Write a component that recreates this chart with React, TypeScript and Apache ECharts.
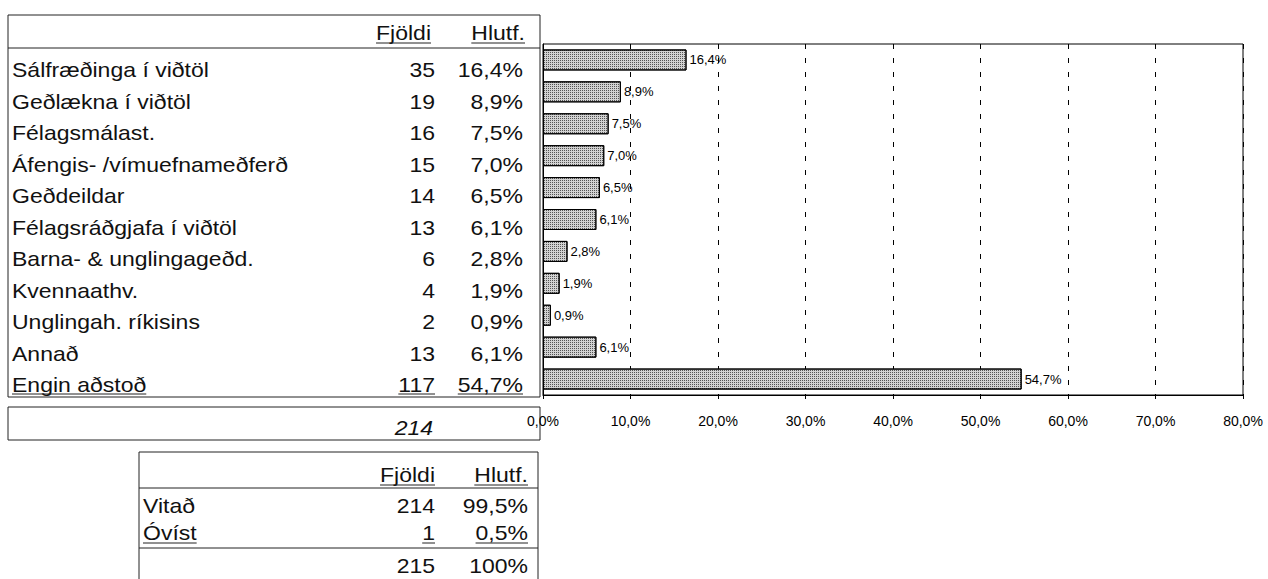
import React, { useEffect, useRef } from "react";
import * as echarts from "echarts";

const categories = [
  "Sálfræðinga í viðtöl",
  "Geðlækna í viðtöl",
  "Félagsmálast.",
  "Áfengis- /vímuefnameðferð",
  "Geðdeildar",
  "Félagsráðgjafa í viðtöl",
  "Barna- & unglingageðd.",
  "Kvennaathv.",
  "Unglingah. ríkisins",
  "Annað",
  "Engin aðstoð",
];
const counts = [35, 19, 16, 15, 14, 13, 6, 4, 2, 13, 117];
const percents = [16.4, 8.9, 7.5, 7.0, 6.5, 6.1, 2.8, 1.9, 0.9, 6.1, 54.7];
const totalCount = 214;

const knownLabels = ["Vitað", "Óvíst"];
const knownCounts = [214, 1];
const knownPercents = [99.5, 0.5];
const knownTotalCount = 215;
const knownTotalPct = "100%";

const headerLabels = ["Fjöldi", "Hlutf."];

const axisMin = 0;
const axisMax = 80;
const axisInterval = 10;

const FONT = "Liberation Sans";
const FS = 20;
const SX = 1.15;

const fmtPct = (v: number) => v.toFixed(1).replace(".", ",") + "%";

let measureCtx: CanvasRenderingContext2D | null = null;
function textWidth(s: string, italic = false) {
  if (!measureCtx) {
    const c = document.createElement("canvas");
    measureCtx = c.getContext("2d");
  }
  if (!measureCtx) return s.length * FS * 0.5;
  measureCtx.font = `${italic ? "italic " : ""}${FS}px "${FONT}"`;
  return measureCtx.measureText(s).width;
}

function txt(s: string, x: number, baseline: number, align: "left" | "right", italic = false) {
  return {
    type: "text",
    x,
    y: baseline - 0.3465 * FS,
    scaleX: SX,
    silent: true,
    style: {
      text: s,
      fontSize: FS,
      fontFamily: FONT,
      fontStyle: italic ? "italic" : "normal",
      fill: "#111",
      align,
      verticalAlign: "middle",
    },
  };
}

function underline(s: string, x: number, baseline: number, align: "left" | "right") {
  const w = textWidth(s) * SX;
  const x1 = align === "left" ? x : x - w;
  const x2 = align === "left" ? x + w : x;
  return hline(x1, x2, baseline + 3);
}

function hline(x1: number, x2: number, y: number) {
  return {
    type: "line",
    silent: true,
    shape: { x1, y1: y, x2, y2: y },
    style: { stroke: "#222", lineWidth: 1 },
  };
}
function vline(x: number, y1: number, y2: number) {
  return {
    type: "line",
    silent: true,
    shape: { x1: x, y1, x2: x, y2 },
    style: { stroke: "#222", lineWidth: 1 },
  };
}

function buildGraphics() {
  const g: any[] = [];
  // Table 1
  const L = 8, R = 540, T = 15, HL = 48, B = 397;
  g.push(hline(L, R, T), hline(L, R, HL), hline(L, R, B), vline(L, T, B), vline(R, T, B));
  const numR = 435, pctR = 523;
  g.push(txt(headerLabels[0], 431, 40, "right"), underline(headerLabels[0], 431, 40, "right"));
  g.push(txt(headerLabels[1], 525, 40, "right"), underline(headerLabels[1], 525, 40, "right"));
  categories.forEach((c, i) => {
    const b = 77 + 31.5 * i;
    g.push(txt(c, 12, b, "left"));
    g.push(txt(String(counts[i]), numR, b, "right"));
    g.push(txt(fmtPct(percents[i]), pctR, b, "right"));
    if (i === categories.length - 1) {
      g.push(underline(c, 12, b - 1, "left"));
      g.push(underline(String(counts[i]), numR, b - 1, "right"));
      g.push(underline(fmtPct(percents[i]), pctR, b - 1, "right"));
    }
  });
  // total box
  g.push(hline(L, R, 407), hline(L, R, 440), vline(L, 407, 440), vline(R, 407, 440));
  g.push(txt(String(totalCount), 433, 435, "right", true));

  // Table 2
  const L2 = 139, R2 = 538, T2 = 452, H2 = 488, S2 = 548, B2 = 600;
  g.push(hline(L2, R2, T2), hline(L2, R2, H2), hline(L2, R2, S2), vline(L2, T2, B2), vline(R2, T2, B2));
  const n2 = 435, p2 = 528;
  g.push(txt(headerLabels[0], n2, 482, "right"), underline(headerLabels[0], n2, 482, "right"));
  g.push(txt(headerLabels[1], p2, 482, "right"), underline(headerLabels[1], p2, 482, "right"));
  knownLabels.forEach((c, i) => {
    const b = 513 + 27 * i;
    g.push(txt(c, 143, b, "left"));
    g.push(txt(String(knownCounts[i]), n2, b, "right"));
    g.push(txt(fmtPct(knownPercents[i]), p2, b, "right"));
    if (i === knownLabels.length - 1) {
      g.push(underline(c, 143, b, "left"));
      g.push(underline(String(knownCounts[i]), n2, b, "right"));
      g.push(underline(fmtPct(knownPercents[i]), p2, b, "right"));
    }
  });
  g.push(txt(String(knownTotalCount), n2, 573, "right"));
  g.push(txt(knownTotalPct, p2, 573, "right"));
  return g;
}

export default function App() {
  const ref = useRef<HTMLDivElement>(null);
  useEffect(() => {
    if (!ref.current) return;
    const chart = echarts.init(ref.current, null, { renderer: "svg" });
    chart.setOption({
      animation: false,
      backgroundColor: "#fff",
      grid: {
        left: 543,
        top: 44,
        width: 700,
        height: 351,
        show: true,
        borderColor: "#000",
        borderWidth: 1,
        backgroundColor: "transparent",
      },
      xAxis: {
        type: "value",
        min: axisMin,
        max: axisMax,
        interval: axisInterval,
        axisLine: { show: true, lineStyle: { color: "#000", width: 1 } },
        axisTick: { show: true, length: 4, lineStyle: { color: "#000" } },
        axisLabel: {
          color: "#000",
          fontFamily: FONT,
          fontSize: 14,
          margin: 19,
          formatter: (v: number) => fmtPct(v),
        },
        splitLine: {
          show: true,
          lineStyle: { color: "#000", width: 1, type: [5, 9] },
        },
      },
      yAxis: {
        type: "category",
        data: categories,
        inverse: true,
        axisLine: { show: true, lineStyle: { color: "#000", width: 1 } },
        axisTick: { show: false },
        axisLabel: { show: false },
        splitLine: { show: false },
      },
      series: [
        {
          type: "bar",
          data: percents,
          barWidth: 21,
          itemStyle: {
            color: "#d2d2d2",
            borderColor: "#000",
            borderWidth: 1,
            decal: {
              symbol: "rect",
              symbolSize: 1,
              dashArrayX: [1, 1],
              dashArrayY: [1, 1],
              color: "rgba(0,0,0,0.6)",
              rotation: 0,
            },
          },
          label: {
            show: true,
            position: "right",
            distance: 3,
            color: "#000",
            fontFamily: FONT,
            fontSize: 13,
            formatter: (p: any) => fmtPct(p.value),
          },
        },
      ],
      graphic: { elements: buildGraphics() },
    });
    return () => chart.dispose();
  }, []);
  return (
    <div
      ref={ref}
      style={{ position: "absolute", left: 0, top: 0, width: 1268, height: 579, background: "#fff" }}
    />
  );
}
